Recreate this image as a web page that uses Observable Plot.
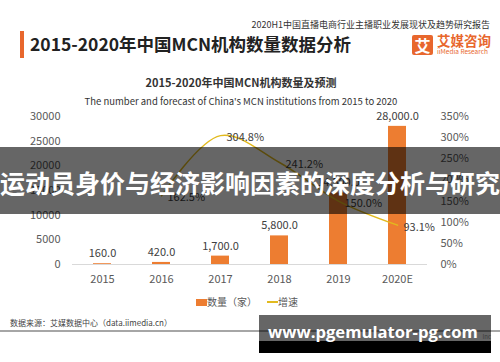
<!DOCTYPE html>
<html><head><meta charset="utf-8">
<script src="https://cdn.jsdelivr.net/npm/d3@7"></script>
<script src="https://cdn.jsdelivr.net/npm/@observablehq/plot@0.6"></script>
<style>
html,body{margin:0;padding:0;background:#fff;}
#root{position:relative;width:500px;height:362px;overflow:hidden;font-family:"Noto Sans CJK SC","Noto Sans",sans-serif;background:#fff;}
.a{position:absolute;white-space:nowrap;line-height:1;}
</style></head><body><div id="root">
<div class="a" style="left:20px;top:31px;width:4px;height:27px;background:#E8672D"></div>
<div class="a" style="left:30px;top:35px;font-size:17.5px;font-weight:700;color:#222">2015-2020年中国MCN机构数量数据分析</div>
<div class="a" style="right:10px;top:20px;font-size:9px;color:#333">2020H1中国直播电商行业主播职业发展现状及趋势研究报告</div>
<div class="a" style="left:412px;top:35px;width:21px;height:20px;background:#E8672D;border-radius:2px;color:#fff;font-weight:700;font-size:16px;text-align:center;line-height:20px">艾</div>
<div class="a" style="left:437px;top:34px;font-size:13.5px;font-weight:700;color:#E8672D">艾媒咨询</div>
<div class="a" style="left:437px;top:48px;font-size:6.5px;color:#E8672D">iiMedia Research</div>
<div class="a" style="left:0;width:482px;text-align:center;top:77px;font-size:11px;font-weight:700;color:#333">2015-2020年中国MCN机构数量及预测</div>
<div class="a" style="left:0;width:482px;text-align:center;top:96.5px;font-size:9.5px;color:#333">The number and forecast of China's MCN institutions from 2015 to 2020</div>
<div id="chart" class="a" style="left:0;top:105px"></div>
<div class="a" style="left:196px;top:297px;font-size:10px;color:#595959;display:flex;align-items:center">
  <span style="display:inline-block;width:11px;height:7px;background:#ED7D31"></span><span>数量（家）</span>
  <span style="display:inline-block;width:11px;height:1.5px;background:#E2BA1E;margin-left:10px"></span><span>增速</span>
</div>
<div class="a" style="left:10px;top:319px;font-size:8px;color:#444">数据来源：艾媒数据中心（data.iimedia.cn）</div>
<div class="a" style="left:0;top:330px;width:500px;height:1.5px;background:#a6a6a6"></div>
<div class="a" style="right:9px;top:334px;font-size:6px;color:#999">Inc</div>
<div class="a" style="left:0;top:147px;width:500px;height:67px;background:rgba(0,0,0,0.6)"></div>
<div class="a" style="left:0;top:170px;font-size:25px;font-weight:700;color:#fff">运动员身价与经济影响因素的深度分析与研究</div>
<div class="a" style="left:259px;top:315px;width:232px;height:26px;background:rgba(0,0,0,0.6)"></div>
<div class="a" style="left:259px;top:341px;width:232px;height:12px;background:#000"></div>
<div id="wm" class="a" style="left:268px;top:324px;font-size:18px;font-weight:700;color:#fff;font-family:'Open Sans',sans-serif">www.pgemulator-pg.com</div>
</div>
<script>
const years = ["2015","2016","2017","2018","2019","2020E"];
const counts = [160, 420, 1700, 5800, 14500, 28000];
const growth = [null, 162.5, 304.8, 241.2, 150.0, 93.1];
const leftTicks = [0, 5000, 10000, 15000, 20000, 25000, 30000];
const rightTicks = [0, 50, 100, 150, 200, 250, 300, 350];
const rightMax = 350;
const leftMax = 30000;

const rows = years.map((y, i) => ({year: y, count: counts[i], growth: growth[i]}));
const lineRows = rows.filter(d => d.growth != null);
const toLeft = g => g * leftMax / rightMax;

const chart = Plot.plot({
  width: 500, height: 189,
  marginTop: 11, marginBottom: 30, marginLeft: 72, marginRight: 73,
  style: {fontFamily: '"Noto Sans CJK SC","Noto Sans",sans-serif', fontSize: "11px", color: "#595959", background: "transparent"},
  x: {domain: years, paddingInner: 0.69, paddingOuter: 0.345},
  y: {domain: [0, leftMax]},
  marks: [
    Plot.barY(rows, {x: "year", y: "count", fill: "#ED7D31"}),
    Plot.ruleY([0], {stroke: "#d9d9d9"}),
    Plot.line(lineRows, {x: "year", y: d => toLeft(d.growth), stroke: "#E2BA1E", strokeWidth: 1.5, curve: "catmull-rom"}),
    Plot.text(rows, {x: "year", y: "count", text: d => d3.format(",.1f")(d.count), dy: -10, fill: "#404040", fontSize: 11}),
    Plot.text(lineRows, {x: "year", y: d => toLeft(d.growth), text: d => d.growth.toFixed(1) + "%", textAnchor: "start", dx: 6, dy: 2, fill: "#404040", fontSize: 11}),
    Plot.axisY(leftTicks, {anchor: "left", tickSize: 0, tickPadding: 12, label: null, color: "#595959", tickFormat: d => String(d)}),
    Plot.axisY(rightTicks.map(toLeft), {anchor: "right", tickSize: 0, tickPadding: 13, label: null, color: "#595959", tickFormat: d => Math.round(d / leftMax * rightMax) + "%"}),
    Plot.axisX({tickSize: 0, tickPadding: 11, label: null, color: "#595959"})
  ]
});
document.getElementById("chart").appendChild(chart);
const wm = document.getElementById("wm");
const w = wm.getBoundingClientRect().width;
if (w > 0) wm.style.fontSize = (18 * 210 / w) + "px";
</script>
</body></html>
